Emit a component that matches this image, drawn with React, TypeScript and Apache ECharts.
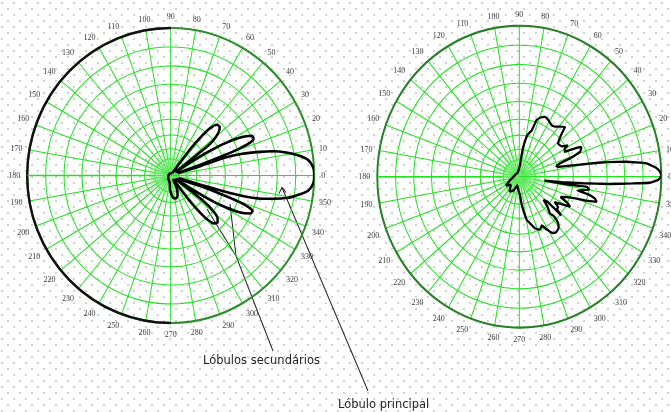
import React, { useEffect, useRef } from "react";
import * as echarts from "echarts";

// ---- data (angle in degrees, radius in plot units 0..100) ----
const ANGLE_MIN = 0;
const ANGLE_MAX = 360;
const ANGLE_STEP = 10;
const RADIUS_MAX = 100;
const RING_RADII = [11.2, 18.2, 27.5, 38.1, 49.8, 61.9, 74.3, 87.1, 100];
const HORIZONTAL_SPOKE_ANGLE = 180;
const SPOKE_START = 12;

const LEFT_PATTERN: [number, number][] = [
  [56, 2], [70, 2], [90, 1.5], [120, 1.5], [150, 1.5], [180, 1.5], [210, 2], [240, 3], [262, 5],
  [268, 10], [276, 15], [283, 16], [290, 14], [296, 10], [300, 4],
  [-55.5, 3], [-53.5, 11], [-52.5, 22], [-51, 32], [-49.5, 39], [-47, 44.5], [-44, 45.5], [-41, 43],
  [-38.5, 36], [-37.2, 27], [-36.5, 14], [-35, 4],
  [-33.5, 5], [-32.5, 15], [-31.5, 27], [-30, 40], [-27.5, 54], [-25, 61], [-23, 62], [-21.5, 58],
  [-20.5, 50], [-19.8, 38], [-19, 22], [-18.2, 6],
  [-17.5, 6], [-16.7, 23], [-16, 43], [-14.7, 60], [-12.5, 73], [-10.5, 83], [-8, 91], [-6, 96.5],
  [-3, 99.5], [0, 100], [3, 99.5], [6.5, 96], [9, 89], [11, 82], [13, 73], [14.5, 64], [16.5, 52],
  [17.8, 40], [17.2, 22], [18.5, 5],
  [19.2, 8], [19.6, 22], [20.2, 38], [20.8, 50], [21.8, 59], [23.5, 63], [25.5, 62.5], [28, 55],
  [30.5, 41], [32, 28], [33, 16], [34, 5],
  [35.5, 4], [37, 14], [37.5, 28], [38.5, 37], [41, 44], [44, 47.5], [47, 47], [49.5, 42], [51, 35],
  [52.5, 24], [53.5, 12], [54.5, 3], [56, 2],
];

const RIGHT_PATTERN: [number, number][] = [
  [90, 6], [110, 3], [150, 3], [180, 4], [200, 7], [212, 11], [222, 8], [235, 12], [246, 10], [256, 6], [266, 9],
  [-88, 12], [-85, 18], [-83, 22], [-79.7, 29], [-76, 32], [-72, 36], [-67.5, 38], [-64, 36], [-61, 40],
  [-58, 44], [-55, 45], [-51, 44], [-48.3, 41], [-47, 36], [-48.3, 32.5], [-45, 28], [-42, 23], [-40, 26],
  [-41, 39], [-38.5, 34], [-36.5, 34], [-34, 30], [-31, 36], [-29, 41], [-27, 38], [-24.8, 32], [-22, 36],
  [-20, 42], [-18.5, 50], [-17, 57], [-15.2, 55], [-13.5, 50], [-12.5, 42], [-10, 50], [-8, 48],
  [-8.5, 35], [-8.5, 18],
  [-7, 30], [-5.5, 45], [-4.4, 63], [-3.2, 80], [-2.5, 92], [-1.2, 98], [0.5, 100], [2, 99], [3.5, 96.5],
  [5.6, 90], [7.5, 76], [8.8, 63], [9.7, 53], [11, 40], [13, 29], [15, 27],
  [17.2, 30], [18.8, 37.7], [21.2, 46], [24.3, 48], [25.6, 43.5], [27.2, 36], [30.3, 37], [31.3, 40],
  [34, 36], [38.8, 35], [43, 40], [45.8, 46], [49, 44], [53, 41.5], [56.3, 41], [61.4, 42.7], [65.5, 43.6],
  [69, 42], [72, 39.5], [74, 32], [77.5, 29], [79, 27], [82, 20], [84, 13], [86, 8], [90, 6],
];

const LABEL_SECONDARY = "Lóbulos secundários";
const LABEL_MAIN = "Lóbulo principal";

const norm = (a: number) => ((a % 360) + 360) % 360;

const GRID_GREEN = "#22e022";

// plot geometry (chart pixels)
const LEFT_CENTER: [number, number] = [170.7, 175.5];
const LEFT_RADIUS = 143.5;
const RIGHT_LAYER_X = 345;
const RIGHT_CENTER: [number, number] = [519.3 - RIGHT_LAYER_X, 176.7];
const RIGHT_RADIUS = 142;

function polarPlot(center: [number, number], radius: number, frameColor: string) {
  return {
    polar: [
      { center, radius },
      { center, radius: 22 },
    ],
    angleAxis: [
      {
        polarIndex: 0,
        type: "value",
        min: ANGLE_MIN,
        max: ANGLE_MAX,
        interval: ANGLE_STEP,
        startAngle: 0,
        clockwise: false,
        axisLine: { show: true, lineStyle: { color: frameColor, width: 2 } },
        axisTick: { show: false },
        axisLabel: {
          show: true,
          margin: 7,
          fontSize: 8,
          fontFamily: "Liberation Serif",
          color: "#3a3a3a",
          formatter: (v: number) => (v === 360 ? "" : String(v)),
        },
        splitLine: { show: true, lineStyle: { color: GRID_GREEN, width: 1 } },
      },
      {
        polarIndex: 1,
        type: "value",
        min: 0,
        max: 360,
        interval: 4,
        startAngle: 0,
        clockwise: false,
        axisLine: { show: false },
        axisTick: { show: false },
        axisLabel: { show: false },
        splitLine: { show: true, lineStyle: { color: "#6ee86e", width: 0.5 } },
      },
    ],
    radiusAxis: [
      {
        polarIndex: 0,
        type: "value",
        min: 0,
        max: RADIUS_MAX,
        axisLine: { show: true, lineStyle: { color: GRID_GREEN, width: 1 } },
        axisLabel: { show: false },
        axisTick: { show: false, customValues: RING_RADII, lineStyle: { color: GRID_GREEN } },
        splitLine: { show: true, lineStyle: { color: GRID_GREEN, width: 1 } },
      },
      {
        polarIndex: 1,
        type: "value",
        min: 0,
        max: 1,
        show: false,
        axisLine: { show: false, lineStyle: { color: GRID_GREEN } },
        axisLabel: { show: false },
        axisTick: { show: false },
        splitLine: { show: false },
      },
    ],
  };
}

const toSeriesData = (p: [number, number][]) => p.map(([a, r]) => [r, norm(a)]);

function spokeSeries() {
  return {
    type: "line",
    coordinateSystem: "polar",
    polarIndex: 0,
    data: [
      [SPOKE_START, HORIZONTAL_SPOKE_ANGLE],
      [RADIUS_MAX, HORIZONTAL_SPOKE_ANGLE],
    ],
    symbol: "none",
    clip: false,
    silent: true,
    lineStyle: { color: GRID_GREEN, width: 1.3 },
    z: 10,
  };
}

// left chart coordinates are stretched vertically by 1.028 around y = 175.5
const leftOption = {
  animation: false,
  backgroundColor: "transparent",
  ...polarPlot(LEFT_CENTER, LEFT_RADIUS, "#2f8f2f"),
  series: [
    spokeSeries(),
    {
      type: "line",
      coordinateSystem: "polar",
      polarIndex: 0,
      data: toSeriesData(LEFT_PATTERN),
      smooth: 0.25,
      clip: false,
      symbol: "none",
      lineStyle: { color: "#000", width: 2.5 },
      z: 4,
    },
  ],
  graphic: [
    {
      type: "arc",
      silent: true,
      z: 5,
      shape: {
        cx: LEFT_CENTER[0],
        cy: LEFT_CENTER[1],
        r: LEFT_RADIUS,
        startAngle: Math.PI / 2,
        endAngle: (3 * Math.PI) / 2,
        clockwise: true,
      },
      style: { stroke: "#111", lineWidth: 2.4, fill: "none" },
    },
    { type: "polyline", shape: { points: [[273, 346.2], [236, 253.8], [207, 208.1]] }, style: { stroke: "#222", lineWidth: 1, fill: "none" } },
    { type: "line", shape: { x1: 236, y1: 253.8, x2: 230, y2: 203.2 }, style: { stroke: "#222", lineWidth: 1 } },
    { type: "line", shape: { x1: 368, y1: 385.1, x2: 282, y2: 187.2 }, style: { stroke: "#222", lineWidth: 1 } },
    { type: "polyline", shape: { points: [[279, 193], [282, 187.2], [286, 192]] }, style: { stroke: "#222", lineWidth: 1, fill: "none" } },
    {
      type: "text",
      x: 203,
      y: 355,
      style: { text: LABEL_SECONDARY, fontSize: 11.5, fontFamily: "DejaVu Sans", fill: "#222", textVerticalAlign: "middle" },
    },
    {
      type: "text",
      x: 338,
      y: 397.8,
      style: { text: LABEL_MAIN, fontSize: 11.5, fontFamily: "DejaVu Sans", fill: "#222", textVerticalAlign: "middle" },
    },
  ],
};

// right chart sits in a layer starting at x = 345; coordinates stretched vertically by 1.063 around y = 176.7
const rightOption = {
  animation: false,
  backgroundColor: "transparent",
  ...polarPlot(RIGHT_CENTER, RIGHT_RADIUS, "#2a7f2a"),
  series: [
    spokeSeries(),
    {
      type: "line",
      coordinateSystem: "polar",
      polarIndex: 0,
      data: toSeriesData(RIGHT_PATTERN),
      smooth: 0.1,
      clip: false,
      symbol: "none",
      lineStyle: { color: "#000", width: 2.2 },
      z: 4,
    },
  ],
};

const dot = "radial-gradient(circle, #c4c4c4 0, #c4c4c4 0.6px, rgba(255,255,255,0) 1.1px)";

export default function App() {
  const leftRef = useRef<HTMLDivElement>(null);
  const rightRef = useRef<HTMLDivElement>(null);
  useEffect(() => {
    const l = echarts.init(leftRef.current!, undefined, { renderer: "svg" });
    const r = echarts.init(rightRef.current!, undefined, { renderer: "svg" });
    l.setOption(leftOption as any);
    r.setOption(rightOption as any);
    return () => {
      l.dispose();
      r.dispose();
    };
  }, []);
  return (
    <div
      style={{
        position: "fixed",
        left: 0,
        top: 0,
        width: 671,
        height: 412,
        overflow: "hidden",
        backgroundColor: "#fff",
        backgroundImage: `${dot}, ${dot}`,
        backgroundSize: "12px 12px, 12px 12px",
        backgroundPosition: "2px 3px, 8px 9px",
      }}
    >
      <div
        ref={leftRef}
        style={{
          position: "absolute",
          left: 0,
          top: 0,
          width: 671,
          height: 412,
          willChange: "transform",
          transform: "scaleY(1.028)",
          transformOrigin: "0 175.5px",
        }}
      />
      <div
        ref={rightRef}
        style={{
          position: "absolute",
          left: RIGHT_LAYER_X,
          top: 0,
          width: 671 - RIGHT_LAYER_X,
          height: 412,
          willChange: "transform",
          transform: "scaleY(1.063)",
          transformOrigin: "0 176.7px",
        }}
      />
    </div>
  );
}
